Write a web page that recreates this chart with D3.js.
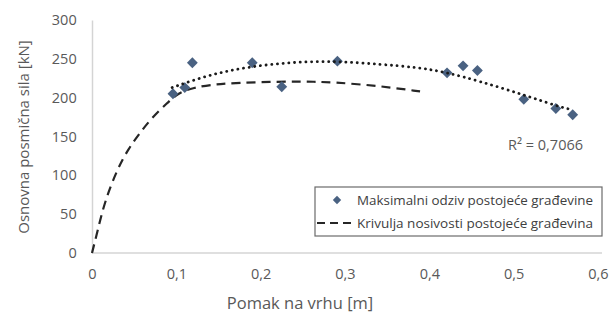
<!DOCTYPE html>
<meta charset="utf-8">
<html>
  <head>
    <style>
      body { margin: 0; background: #fff; }
      text { font-family: "Open Sans", sans-serif; fill: #595959; }
      .axis path { stroke: #d4d4d4; stroke-width: 1.5px; }
      .axis .tick line { display: none; }
      .axis text { font-size: 14.5px; fill: #595959; font-family: "Open Sans", sans-serif; }
      .legend text { font-size: 13.5px; fill: #404040; }
    </style>
    <script src="https://d3js.org/d3.v7.min.js"></script>
  </head>
  <body>
<div id="my_dataviz"></div>
<script type="text/javascript">
// measured maximum response (diamonds)
var pointX = [0.096, 0.110, 0.119, 0.190, 0.225, 0.291, 0.421, 0.440, 0.457, 0.512, 0.550, 0.570];
var pointY = [205, 213, 245, 245, 214, 247, 232, 241, 235, 198, 186, 178];

// capacity curve (dashed)
var capX = [0, 0.007, 0.015, 0.030, 0.043, 0.057, 0.071, 0.089, 0.101, 0.119, 0.150, 0.196, 0.247, 0.286, 0.342, 0.389];
var capY = [0, 30, 66, 108, 134, 155, 174, 193, 205, 213, 218, 220, 221, 220, 215, 208];

// trendline (dotted)
var trendX = [0.095, 0.14, 0.187, 0.238, 0.29, 0.342, 0.386, 0.419, 0.46, 0.511, 0.552, 0.567];
var trendY = [213, 230, 240, 246, 247, 243, 239, 233, 221, 204, 189, 185];

var xTicks = [0, 0.1, 0.2, 0.3, 0.4, 0.5, 0.6];
var yTicks = [0, 50, 100, 150, 200, 250, 300];
var legendLabels = ["Maksimalni odziv postojeće građevine", "Krivulja nosivosti postojeće građevina"];
var r2Label = "R² = 0,7066";

var margin = {top: 20, right: 10, bottom: 61, left: 92},
  width = 612 - margin.left - margin.right,
  height = 314 - margin.top - margin.bottom;

var svg = d3.select("#my_dataviz")
  .append("svg")
  .attr("width", 612)
  .attr("height", 314)
  .append("g")
  .attr("transform", "translate(" + margin.left + "," + margin.top + ")");

var x = d3.scaleLinear().domain([0, 0.6]).range([0, 506]);
var y = d3.scaleLinear().domain([0, 300]).range([height, 0]);

var fmt = function(d) { return String(d).replace(".", ","); };

svg.append("g")
  .attr("class", "axis")
  .attr("transform", "translate(0," + height + ")")
  .call(d3.axisBottom(x).tickValues(xTicks).tickFormat(fmt).tickSize(0).tickSizeOuter(0))
  .call(function(g) { g.select(".domain").attr("d", "M0,0H" + width); })
  .selectAll("text").attr("dy", "1.6em");

svg.append("g")
  .attr("class", "axis")
  .call(d3.axisLeft(y).tickValues(yTicks).tickSize(0).tickSizeOuter(0))
  .selectAll("text").attr("dx", "-0.85em");

// axis titles
svg.append("text")
  .attr("x", 300 - margin.left)
  .attr("y", height + 56)
  .style("text-anchor", "middle")
  .style("font-size", "16.5px")
  .text("Pomak na vrhu [m]");

svg.append("text")
  .attr("transform", "rotate(-90)")
  .attr("x", -(137 - margin.top))
  .attr("y", 29 - margin.left)
  .style("text-anchor", "middle")
  .style("font-size", "15px")
  .text("Osnovna posmična sila [kN]");

var capData = capX.map(function(d, i) { return [d, capY[i]]; });
var trendData = trendX.map(function(d, i) { return [d, trendY[i]]; });
var pts = pointX.map(function(d, i) { return [d, pointY[i]]; });

var line = d3.line()
  .x(function(d) { return x(d[0]); })
  .y(function(d) { return y(d[1]); })
  .curve(d3.curveBasis);

svg.append("path")
  .datum(capData)
  .attr("d", line)
  .attr("fill", "none")
  .attr("stroke", "#262626")
  .attr("stroke-width", 2.2)
  .attr("stroke-dasharray", "9,6");

var diamond = d3.symbol().type(d3.symbolDiamond2).size(75);
svg.selectAll(".pt")
  .data(pts)
  .enter()
  .append("path")
  .attr("class", "pt")
  .attr("d", diamond)
  .attr("transform", function(d) { return "translate(" + x(d[0]) + "," + y(d[1]) + ")"; })
  .attr("fill", "#4a6282");

svg.append("path")
  .datum(trendData)
  .attr("d", line)
  .attr("fill", "none")
  .attr("stroke", "#1a1a1a")
  .attr("stroke-width", 2.8)
  .attr("stroke-linecap", "round")
  .attr("stroke-dasharray", "0.1,5.6");

svg.append("text")
  .attr("x", 508 - margin.left)
  .attr("y", 150 - margin.top)
  .attr("textLength", 75)
  .attr("lengthAdjust", "spacingAndGlyphs")
  .style("font-size", "14.5px")
  .text(r2Label);

// legend
var legend = svg.append("g").attr("class", "legend")
  .attr("transform", "translate(" + (315 - margin.left) + "," + (187 - margin.top) + ")");
legend.append("rect")
  .attr("width", 287).attr("height", 49)
  .attr("fill", "#fff").attr("stroke", "#6b6b6b").attr("stroke-width", 1.2);
legend.append("path")
  .attr("d", d3.symbol().type(d3.symbolDiamond2).size(45))
  .attr("transform", "translate(22,13)")
  .attr("fill", "#4a6282");
legend.append("line")
  .attr("x1", 2).attr("x2", 38).attr("y1", 36).attr("y2", 36)
  .attr("stroke", "#262626").attr("stroke-width", 2.2).attr("stroke-dasharray", "8,5");
legend.selectAll(".lt")
  .data(legendLabels)
  .enter()
  .append("text")
  .attr("x", 42)
  .attr("y", function(d, i) { return 18 + i * 23; })
  .attr("textLength", 236)
  .attr("lengthAdjust", "spacingAndGlyphs")
  .text(function(d) { return d; });
</script>
</body>
</html>
